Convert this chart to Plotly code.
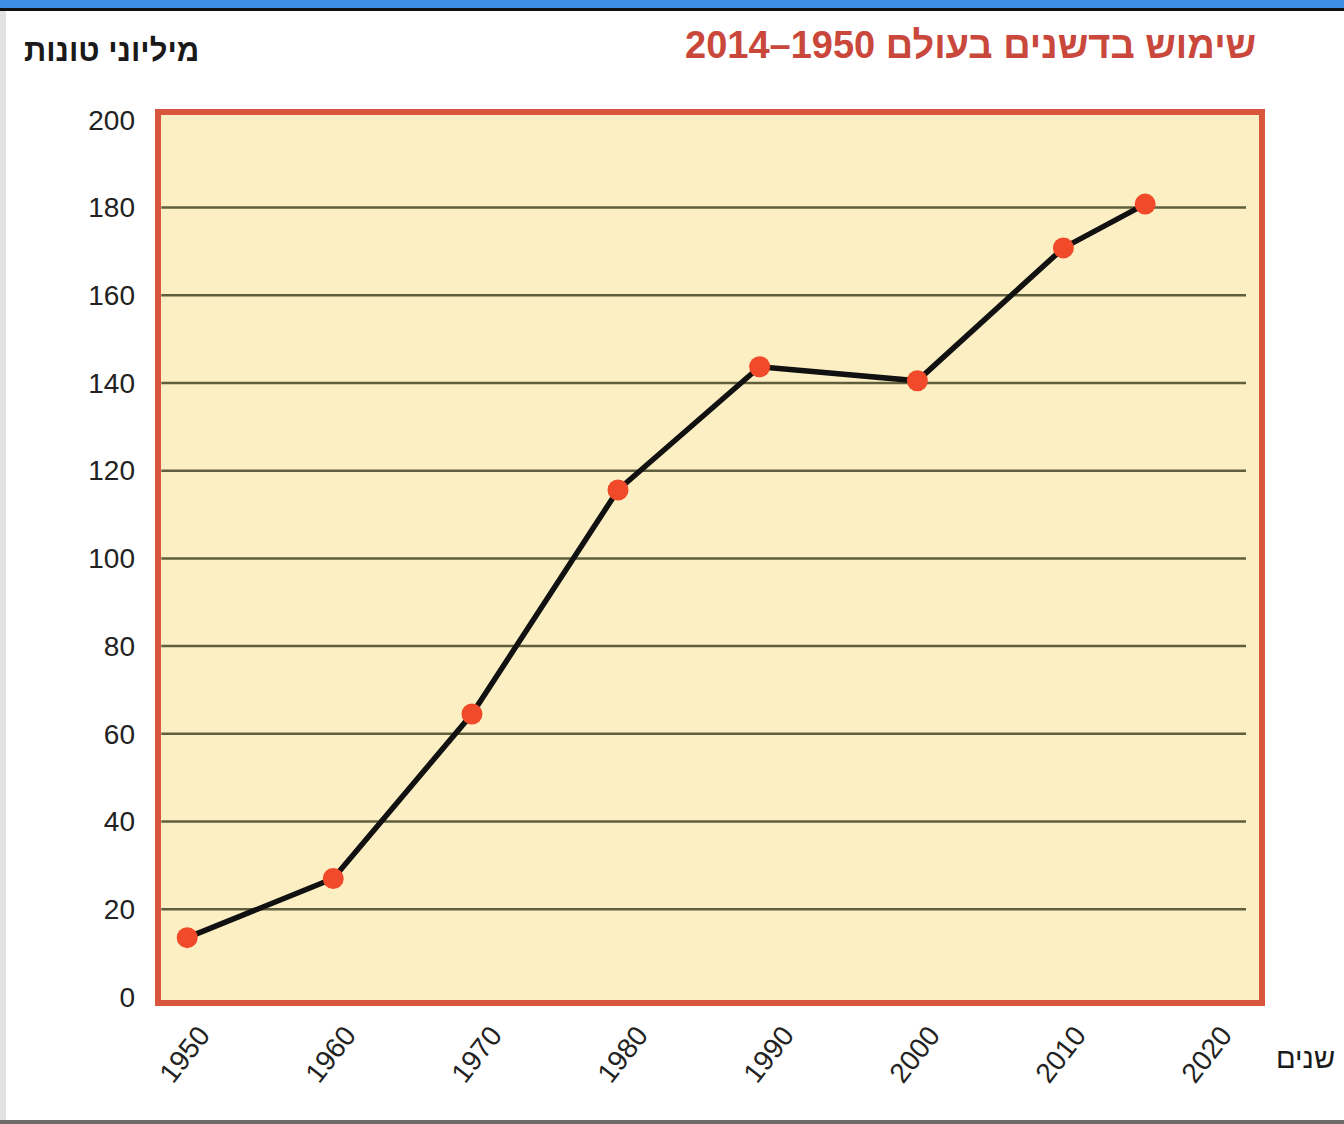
import plotly.graph_objects as go

# Data
years = [1950, 1960, 1969.5, 1979.5, 1989.2, 2000, 2010, 2015.6]
million_tonnes = [13.5, 27, 64.5, 115.6, 143.7, 140.5, 170.8, 180.8]

x_ticks = [1950, 1960, 1970, 1980, 1990, 2000, 2010, 2020]
x_tick_text = ["1950", "1960", "1970", "1980", "1990", "2000", "2010", "2020"]
y_ticks = [0, 20, 40, 60, 80, 100, 120, 140, 160, 180, 200]
grid_levels = [20, 40, 60, 80, 100, 120, 140, 160, 180]

title_text = "שימוש בדשנים בעולם 1950–2014"
y_title = "מיליוני טונות"
x_title = "שנים"

FONT = "Liberation Sans, Arial, DejaVu Sans, sans-serif"

fig = go.Figure()
fig.add_trace(go.Scatter(
    x=years, y=million_tonnes, mode="lines+markers",
    line=dict(color="#111111", width=5.5),
    marker=dict(color="#f04a2a", size=21, line=dict(width=0)),
    showlegend=False, hoverinfo="x+y",
))

W, H = 1344, 1124
L, R, T, B = 158, 82, 112, 121
pw, ph = W - L - R, H - T - B

def px_x(px):
    return (px - L) / pw

def px_y(py):
    return (H - B - py) / ph

shapes = []
# horizontal grid lines (ending short of the right frame, as in the original)
for g in grid_levels:
    shapes.append(dict(type="line", xref="x domain", yref="y",
                       x0=0.003, x1=px_x(1246), y0=g, y1=g,
                       line=dict(color="#5f5f3e", width=2.5), layer="below"))
shapes += [
    # red frame around plot area
    dict(type="rect", xref="paper", yref="paper", x0=0, x1=1, y0=0, y1=1,
         line=dict(color="#d9553b", width=6), layer="above"),
    # screenshot decorations
    dict(type="rect", xref="paper", yref="paper", x0=px_x(0), x1=px_x(W),
         y0=px_y(0), y1=px_y(8), fillcolor="#3f8ee6", line=dict(width=0)),
    dict(type="rect", xref="paper", yref="paper", x0=px_x(0), x1=px_x(W),
         y0=px_y(8), y1=px_y(11), fillcolor="#111111", line=dict(width=0)),
    dict(type="rect", xref="paper", yref="paper", x0=px_x(0), x1=px_x(6),
         y0=px_y(11), y1=px_y(H), fillcolor="#e2e2e2", line=dict(width=0)),
    dict(type="rect", xref="paper", yref="paper", x0=px_x(0), x1=px_x(W),
         y0=px_y(1120), y1=px_y(H), fillcolor="#6b6b6b", line=dict(width=0)),
]

annotations = [
    dict(text="<b>" + title_text + "</b>", xref="paper", yref="paper", x=1, y=1,
         xanchor="right", yanchor="middle", xshift=-4, yshift=67,
         showarrow=False, font=dict(family=FONT, size=38, color="#c9473b")),
    dict(text="<b>" + y_title + "</b>", xref="paper", yref="paper", x=0, y=1,
         xanchor="left", yanchor="middle", xshift=-136, yshift=62,
         showarrow=False, font=dict(family=FONT, size=31, color="#1a1a1a")),
    dict(text=x_title, xref="paper", yref="paper", x=1, y=0,
         xanchor="left", yanchor="middle", xshift=12, yshift=-55,
         showarrow=False, font=dict(family=FONT, size=29, color="#1a1a1a")),
]

fig.update_layout(
    width=W, height=H,
    margin=dict(l=L, r=R, t=T, b=B),
    paper_bgcolor="white",
    plot_bgcolor="#fcefc4",
    shapes=shapes,
    annotations=annotations,
    xaxis=dict(
        range=[1948.0, 2023.6], tickvals=x_ticks, ticktext=x_tick_text,
        tickangle=-52, showgrid=False, zeroline=False, showline=False,
        ticks="", tickfont=dict(family=FONT, size=28, color="#222222"),
        ticklabelshift=13, ticklabelstandoff=9,
    ),
    yaxis=dict(
        range=[-1.4, 201.8], tickvals=y_ticks, showgrid=False,
        zeroline=False, showline=False,
        ticks="", tickfont=dict(family=FONT, size=28, color="#222222"),
        ticklabelstandoff=22,
    ),
)

fig.write_html("out.html")
